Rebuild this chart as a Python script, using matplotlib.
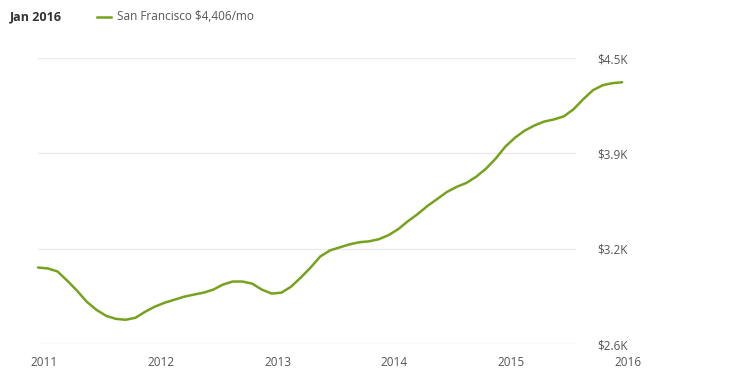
import matplotlib
matplotlib.use("Agg")
import matplotlib.pyplot as plt
import numpy as np

LINE = "#76a21e"
GRID = "#ebebeb"
TEXT = "#555555"

plt.rcParams["font.family"] = ["Open Sans", "DejaVu Sans"]

# monthly rent, Jan 2011 .. Jan 2016
rent = [
    3108, 3102, 3082, 3021, 2955, 2881, 2827, 2787, 2767, 2761, 2774, 2814,
    2848, 2874, 2894, 2914, 2928, 2941, 2961, 2995, 3015, 3015, 3001, 2961,
    2935, 2941, 2981, 3042, 3108, 3182, 3222, 3242, 3262, 3276, 3282, 3296,
    3323, 3363, 3416, 3463, 3517, 3563, 3610, 3644, 3670, 3711, 3764, 3831,
    3911, 3971, 4018, 4052, 4078, 4092, 4112, 4159, 4226, 4286, 4319, 4333,
    4339,
]
years = ["2011", "2012", "2013", "2014", "2015", "2016"]
y_ticks = [2600, 3233, 3867, 4500]
y_labels = ["$2.6K", "$3.2K", "$3.9K", "$4.5K"]

fig = plt.figure(figsize=(7.31, 3.87), dpi=100)
ax = fig.add_axes([38 / 731, 43 / 387, 590 / 731, 286 / 387])

months = np.arange(len(rent))
ax.plot(months, rent, color=LINE, lw=1.8, clip_on=False, zorder=3,
        solid_capstyle="round", solid_joinstyle="round")

for v in y_ticks:
    ax.axhline(v, xmin=0, xmax=0.91, color=GRID, lw=1, zorder=1)

ax.set_xlim(0, 60)
ax.set_ylim(2600, 4500)
ax.set_xticks(np.arange(0, 61, 12) + 0.6)
ax.set_xticklabels(years)
ax.set_yticks(y_ticks)
ax.set_yticklabels(y_labels)
ax.yaxis.tick_right()
ax.tick_params(axis="y", length=0, pad=-22, labelsize=8.5, labelcolor=TEXT)
ax.tick_params(axis="x", length=0, pad=9, labelsize=8.5, labelcolor=TEXT)
for s in ax.spines.values():
    s.set_visible(False)
ax.patch.set_alpha(0)

# header / legend
fig.text(10 / 731, 1 - 17 / 387, "Jan 2016", fontsize=9, fontweight="bold",
         color="#333333", va="center")
fig.add_artist(plt.Line2D([97 / 731, 111 / 731], [1 - 17 / 387] * 2,
                          color=LINE, lw=1.8))
fig.text(117 / 731, 1 - 17 / 387, "San Francisco $4,406/mo", fontsize=8.5,
         color=TEXT, va="center")

fig.savefig("out.png", dpi=100)
